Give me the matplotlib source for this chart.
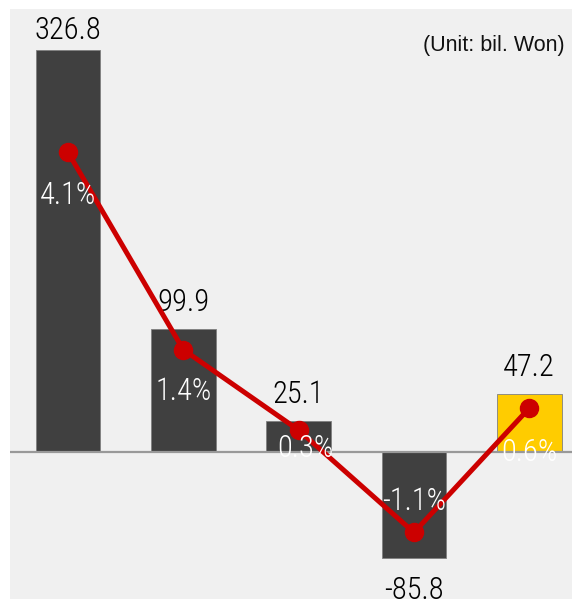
import matplotlib
matplotlib.use('Agg')
import matplotlib.pyplot as plt
from matplotlib import font_manager

# data
values = [326.8, 99.9, 25.1, -85.8, 47.2]
rates = [4.1, 1.4, 0.3, -1.1, 0.6]
bar_colors = ['#404040', '#404040', '#404040', '#404040', '#FFCC00']
unit_text = '(Unit: bil. Won)'

installed = set(f.name for f in font_manager.fontManager.ttflist)
narrow = 'DejaVu Sans'
for name in ['Liberation Sans Narrow', 'Arial Narrow', 'Roboto Condensed', 'DejaVu Sans Condensed']:
    if name in installed:
        narrow = name
        break
regular = 'Liberation Sans' if 'Liberation Sans' in installed else 'DejaVu Sans'

fig = plt.figure(figsize=(5.72, 5.99), dpi=100)
ax = fig.add_axes([10 / 572, 0, 562 / 572, 590 / 599])
ax.set_facecolor('#F0F0F0')

x = list(range(len(values)))
ax.bar(x, values, width=0.56, color=bar_colors, edgecolor='#808080', linewidth=0.6, zorder=2)
ax.axhline(0, color='#999999', linewidth=1.6, zorder=3)
ax.set_xlim(-0.503, 4.371)
ax.set_ylim(-119.5, 360.2)
for s in ax.spines.values():
    s.set_visible(False)
ax.set_xticks([])
ax.set_yticks([])

# growth rate on a second axis
ax2 = ax.twinx()
ax2.set_ylim(-2.01, 6.06)
ax2.axis('off')
ax2.plot(x, rates, color='#CC0000', linewidth=3.6, marker='o', markersize=13, zorder=4)

# value labels
ymax = ax.get_ylim()[1]
for i, v in enumerate(values):
    if v >= 0:
        y = min(v + 18 / 1.23, ymax - 30 / 1.23)
        ax.text(i, y, f'{v:.1f}', ha='center', va='baseline', fontsize=22,
                family=narrow, weight='light', color='black', zorder=6)
    else:
        ax.annotate(f'{v:.1f}', xy=(i, v), xytext=(0, -13), textcoords='offset points',
                    ha='center', va='top', fontsize=22, family=narrow, weight='light',
                    color='black', zorder=6)

# rate labels
label_dy = [-28.8, -28.1, -10.8, 24.5, -29.5]
label_dx = [0, 0, 5, 0, 0]
for i, r in enumerate(rates):
    ax2.annotate(f'{r:.1f}%', xy=(i, r), xytext=(label_dx[i], label_dy[i]),
                 textcoords='offset points', ha='center', va='center_baseline',
                 fontsize=22, family=narrow, weight='light', color='white', zorder=7)

fig.text(565 / 572, 1 - 51 / 599, unit_text, ha='right', va='baseline',
         fontsize=15.5, family=regular, color='#111111')

fig.savefig('out.png', dpi=100, facecolor='white')
